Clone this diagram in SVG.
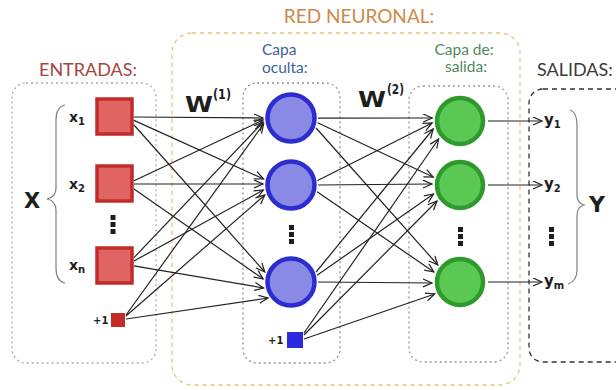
<svg xmlns="http://www.w3.org/2000/svg" width="616" height="390" viewBox="0 0 616 390">
<defs>
<marker id="arr" markerUnits="userSpaceOnUse" markerWidth="12" markerHeight="10" refX="10" refY="4.5" orient="auto">
<path d="M1,0.5 L10,4.5 L1,8.5" fill="none" stroke="#222" stroke-width="1.2"/>
</marker>
<style>
.box{fill:none;stroke-width:1.3}
.lbl{font-family:Lato,"Liberation Sans",sans-serif}
.sym{font-family:"DejaVu Sans",sans-serif;font-weight:bold;fill:#1e1e1e}
.in{fill:#e06464;stroke:#c22c28;stroke-width:3.5}
.hid{fill:#8a8ae6;stroke:#2c2cd0;stroke-width:4.5}
.out{fill:#5cc854;stroke:#2f9a2c;stroke-width:4.5}
.dot{fill:#1e1e1e}
.cn line{stroke:#222;stroke-width:1.2;marker-end:url(#arr)}
.brace{fill:none;stroke:#808080;stroke-width:1.2}
</style>
</defs>
<rect width="616" height="390" fill="#fff"/>

<g id="boxes">
<rect class="box" x="12" y="83" width="144" height="280" rx="14" stroke="#b4aaa0" stroke-dasharray="2 3"/>
<rect class="box" x="172" y="33" width="348" height="352" rx="20" stroke="#e5c27a" stroke-dasharray="4 4" stroke-width="1.5"/>
<rect class="box" x="243" y="83" width="97" height="280" rx="14" stroke="#8a90a6" stroke-dasharray="2 3"/>
<rect class="box" x="409" y="86" width="99" height="276" rx="14" stroke="#909a96" stroke-dasharray="2 3"/>
<rect class="box" x="529" y="89" width="120" height="273" rx="14" stroke="#333" stroke-dasharray="5 4" stroke-width="2"/>
</g>

<g id="titles" class="lbl">
<text x="359" y="23" font-size="19" text-anchor="middle" fill="#cf8a4a">RED NEURONAL:</text>
<text x="88" y="76" font-size="18" text-anchor="middle" fill="#a5453f">ENTRADAS:</text>
<text x="262" y="55" font-size="15.5" fill="#3d5f9e">Capa</text>
<text x="262" y="73" font-size="15.5" fill="#3d5f9e">oculta:</text>
<text x="464" y="55" font-size="15.5" text-anchor="middle" fill="#4e8c5c">Capa de:</text>
<text x="466" y="72" font-size="15.5" text-anchor="middle" fill="#4e8c5c">salida:</text>
<text x="537" y="76" font-size="18" fill="#3a3a3a">SALIDAS:</text>
</g>

<g id="weights" class="sym">
<text x="185" y="112" font-size="21" textLength="28" lengthAdjust="spacingAndGlyphs">W</text>
<text x="213" y="99" font-size="14" textLength="18" lengthAdjust="spacingAndGlyphs">(1)</text>
<text x="358" y="107" font-size="21" textLength="28" lengthAdjust="spacingAndGlyphs">W</text>
<text x="387" y="94" font-size="14" textLength="17" lengthAdjust="spacingAndGlyphs">(2)</text>
</g>

<g id="connectors" class="cn">
<line x1="134" y1="117" x2="263" y2="118"/>
<line x1="134" y1="120.4" x2="263.6" y2="179"/>
<line x1="134" y1="125" x2="264.8" y2="272"/>
<line x1="134" y1="180.7" x2="263.1" y2="120"/>
<line x1="134" y1="184" x2="263" y2="184"/>
<line x1="134" y1="188.9" x2="263.2" y2="279"/>
<line x1="134" y1="257.6" x2="263.3" y2="122"/>
<line x1="134" y1="261" x2="263.4" y2="190"/>
<line x1="134" y1="265.9" x2="263.6" y2="288"/>
<line x1="126" y1="315" x2="263.6" y2="124"/>
<line x1="126" y1="316" x2="264.8" y2="195"/>
<line x1="126" y1="319" x2="268" y2="298"/>

<line x1="318" y1="118.2" x2="432.2" y2="118"/>
<line x1="317.6" y1="122.7" x2="433.2" y2="177"/>
<line x1="316.1" y1="128" x2="437.8" y2="265"/>
<line x1="317.6" y1="180.5" x2="432.1" y2="123"/>
<line x1="318" y1="185" x2="432" y2="184"/>
<line x1="317.1" y1="191.8" x2="433.9" y2="272"/>
<line x1="316.1" y1="272" x2="433.2" y2="129"/>
<line x1="317.1" y1="275.2" x2="433.5" y2="194"/>
<line x1="318" y1="282" x2="432" y2="283"/>
<line x1="304" y1="333" x2="438.6" y2="139"/>
<line x1="304" y1="335" x2="437" y2="201"/>
<line x1="304" y1="339" x2="434.7" y2="294"/>

<line x1="488" y1="121" x2="542" y2="121"/>
<line x1="488" y1="185" x2="542" y2="185"/>
<line x1="488" y1="282" x2="542" y2="282"/>
</g>

<g id="input-x1"><rect class="in" x="97" y="99" width="35" height="35"/>
<text class="sym" x="69" y="122" font-size="14">x<tspan font-size="10" dy="3">1</tspan></text></g>
<g id="input-x2"><rect class="in" x="97" y="166" width="35" height="35"/>
<text class="sym" x="69" y="189" font-size="14">x<tspan font-size="10" dy="3">2</tspan></text></g>
<g id="input-dots"><rect class="dot" x="110.5" y="215" width="5" height="5"/><rect class="dot" x="110.5" y="222" width="5" height="5"/><rect class="dot" x="110.5" y="229" width="5" height="5"/></g>
<g id="input-xn"><rect class="in" x="97" y="248" width="35" height="35"/>
<text class="sym" x="69" y="270" font-size="14">x<tspan font-size="10" dy="3">n</tspan></text></g>
<g id="input-bias"><rect x="111" y="313" width="14" height="14" fill="#c62a26"/>
<text class="sym" x="93" y="324" font-size="10">+1</text></g>

<g id="hidden-1"><circle class="hid" cx="291" cy="118" r="23.5"/></g>
<g id="hidden-2"><circle class="hid" cx="291" cy="185" r="23.5"/></g>
<g id="hidden-dots"><rect class="dot" x="289" y="225" width="5" height="5"/><rect class="dot" x="289" y="232" width="5" height="5"/><rect class="dot" x="289" y="239" width="5" height="5"/></g>
<g id="hidden-3"><circle class="hid" cx="291" cy="282" r="23.5"/></g>
<g id="hidden-bias"><rect x="287" y="332" width="16" height="16" fill="#2a2ae0"/>
<text class="sym" x="268" y="344" font-size="10">+1</text></g>

<g id="output-1"><circle class="out" cx="460" cy="121" r="23"/></g>
<g id="output-2"><circle class="out" cx="460" cy="185" r="23"/></g>
<g id="output-dots"><rect class="dot" x="458" y="227" width="5" height="5"/><rect class="dot" x="458" y="234" width="5" height="5"/><rect class="dot" x="458" y="241" width="5" height="5"/></g>
<g id="output-3"><circle class="out" cx="460" cy="282" r="23"/></g>

<g id="y-labels" class="sym">
<text x="544" y="125" font-size="15">y<tspan font-size="10" dy="3">1</tspan></text>
<text x="544" y="189" font-size="15">y<tspan font-size="10" dy="3">2</tspan></text>
<rect class="dot" x="549" y="227" width="5" height="5"/><rect class="dot" x="549" y="234" width="5" height="5"/><rect class="dot" x="549" y="241" width="5" height="5"/>
<text x="544" y="286" font-size="15">y<tspan font-size="10" dy="3">m</tspan></text>
</g>

<g id="X">
<path class="brace" d="M65,105 Q56,107 56,120 L56,188 Q56,197 47,199 Q56,201 56,210 L56,268 Q56,281 65,283"/>
<text class="sym" x="24" y="208" font-size="21">X</text>
</g>
<g id="Y">
<path class="brace" d="M570,110 Q577,112 577,125 L577,195 Q577,203 584,205 Q577,207 577,215 L577,270 Q577,281 568,284"/>
<text class="sym" x="589" y="212" font-size="22">Y</text>
</g>
</svg>
